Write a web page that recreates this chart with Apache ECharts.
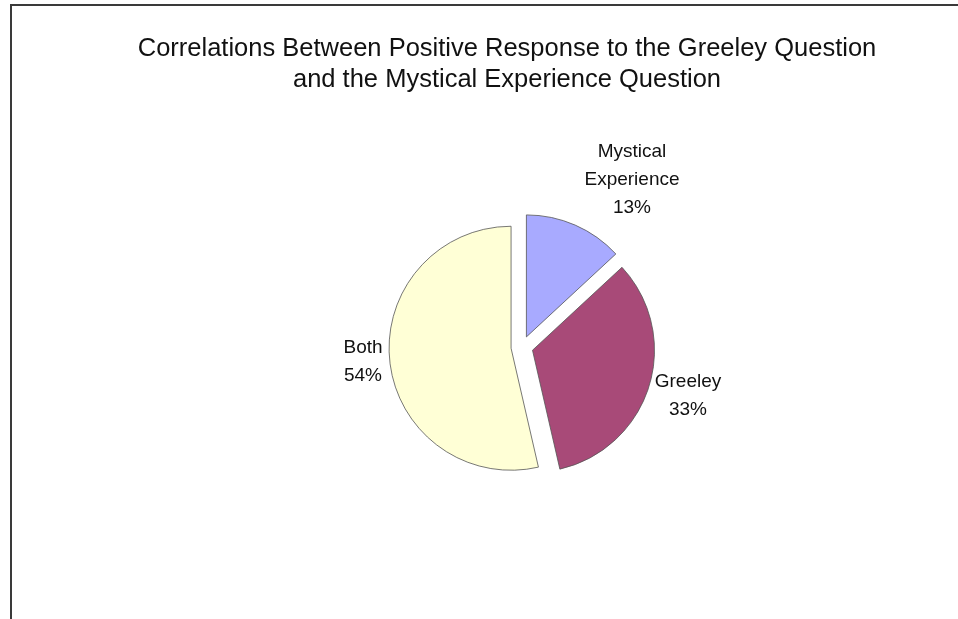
<!DOCTYPE html>
<html>
<head>
<meta charset="utf-8">
<script src="https://cdn.jsdelivr.net/npm/echarts@6/dist/echarts.min.js"></script>
<style>
html,body{margin:0;padding:0;background:#fff;}
#chart{width:958px;height:619px;}
</style>
</head>
<body>
<div id="chart"></div>
<script>
// ---- data ----
var categories = ['Mystical Experience', 'Greeley', 'Both'];
var values = [13.1, 33.3, 53.6];
var colors = ['#A8AAFF', '#A84A78', '#FFFFD6'];
var titleLines = ['Correlations Between Positive Response to the Greeley Question',
                  'and the Mystical Experience Question'];

// ---- layout ----
var CX = 522, CY = 347, R = 122;
// label anchor offsets from pie centre (px)
var labelOffsets = [[110, -167], [166, 49], [-159, 15]];
var FONT = 'Liberation Sans, Arial, sans-serif';

var chart = echarts.init(document.getElementById('chart'), null, {renderer: 'canvas'});

var sliceData = categories.map(function (c, i) {
  return {name: c, value: values[i], selected: true, itemStyle: {color: colors[i]}};
});
var labelData = categories.map(function (c, i) {
  return {name: c, value: values[i]};
});

chart.setOption({
  animation: false,
  backgroundColor: '#ffffff',
  graphic: [{
    type: 'rect',
    shape: {x: 11, y: 5, width: 1200, height: 1000},
    style: {fill: 'none', stroke: '#3a3a3a', lineWidth: 2},
    silent: true
  }],
  title: {
    text: titleLines.join('\n'),
    left: 502,
    top: 28,
    textAlign: 'center',
    textStyle: {
      fontFamily: FONT,
      fontSize: 25.5,
      fontWeight: 'normal',
      color: '#111',
      lineHeight: 31
    }
  },
  series: [{
    type: 'pie',
    center: [CX, CY],
    radius: [0, R],
    startAngle: 90,
    clockwise: true,
    selectedMode: 'multiple',
    selectedOffset: 11,
    data: sliceData,
    itemStyle: {borderColor: '#555', borderWidth: 0.8},
    emphasis: {disabled: true},
    label: {show: false},
    labelLine: {show: false}
  }, {
    type: 'pie',
    silent: true,
    center: [CX, CY],
    radius: [0, R],
    startAngle: 90,
    clockwise: true,
    selectedMode: false,
    avoidLabelOverlap: false,
    data: labelData,
    itemStyle: {color: 'rgba(0,0,0,0)', borderWidth: 0},
    emphasis: {disabled: true},
    label: {
      show: true,
      position: 'outside',
      fontFamily: FONT,
      fontSize: 19,
      lineHeight: 28,
      color: '#111',
      align: 'center',
      formatter: function (p) {
        return p.name.replace(' ', '\n') + '\n' + Math.round(p.percent) + '%';
      }
    },
    labelLine: {show: false},
    labelLayout: function (p) {
      var o = labelOffsets[p.dataIndex];
      return {x: CX + o[0], y: CY + o[1], align: 'center', verticalAlign: 'middle'};
    }
  }]
});
</script>
</body>
</html>
